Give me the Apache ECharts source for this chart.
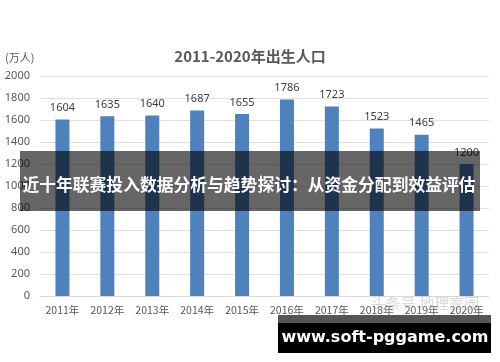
<!DOCTYPE html>
<html><head><meta charset="utf-8">
<script src="https://cdn.jsdelivr.net/npm/echarts@6/dist/echarts.min.js"></script>
<style>html,body{margin:0;padding:0;background:#fff}#c{width:500px;height:362px}</style>
</head><body><div id="c"></div>
<script>
const years = ['2011年','2012年','2013年','2014年','2015年','2016年','2017年','2018年','2019年','2020年'];
const births = [1604,1635,1640,1687,1655,1786,1723,1523,1465,1200];
const yTicks = [0,200,400,600,800,1000,1200,1400,1600,1800,2000];
const titleText = '2011-2020年出生人口';
const unitText = '(万人)';
const bannerText = '近十年联赛投入数据分析与趋势探讨：从资金分配到效益评估';
const siteText = 'www.soft-pggame.com';
const watermarkText = '头条号 地理家园';

const chart = echarts.init(document.getElementById('c'));
chart.setOption({
  animation:false,
  title:{text:titleText,left:'center',top:44,textStyle:{fontSize:15,fontWeight:'bold',color:'#595959',fontFamily:'Noto Sans CJK SC'}},
  grid:{left:40,right:11,top:76,bottom:66,containLabel:false},
  xAxis:{type:'category',data:years,
    axisLine:{lineStyle:{color:'#d9d9d9'}},axisTick:{show:false},
    axisLabel:{interval:0,color:'#595959',fontSize:10.5,margin:9,fontFamily:'Noto Sans CJK SC'}},
  yAxis:{type:'value',min:yTicks[0],max:yTicks[yTicks.length-1],interval:200,
    axisLine:{show:false},axisTick:{show:false},
    splitLine:{lineStyle:{color:'#e0e0e0'}},
    axisLabel:{color:'#595959',fontSize:11,margin:10,fontFamily:'Noto Sans',formatter:v=>String(v)}},
  series:[{type:'bar',data:births,barWidth:14,itemStyle:{color:'#4f81bd'},
    label:{show:true,position:'top',distance:6,color:'#404040',fontSize:11,fontFamily:'Noto Sans'}}],
  graphic:[
    {type:'text',left:5,top:52,style:{text:unitText,fill:'#595959',font:'11px "Noto Sans CJK SC"'}},
    {type:'rect',shape:{x:20,y:151,width:460,height:60},style:{fill:'rgba(0,0,0,0.6)'},z:100},
    {type:'text',x:249,y:185,style:{text:bannerText,fill:'#fff',font:'bold 16.8px "Noto Sans CJK SC"',align:'center',verticalAlign:'middle'},z:101},
    {type:'text',x:425,y:303,style:{text:watermarkText,fill:'rgba(170,170,170,0.45)',font:'15px "Noto Sans CJK SC"',align:'center',verticalAlign:'middle'},z:99},
    {type:'rect',shape:{x:278,y:315,width:213,height:8},style:{fill:'#555'},z:100},
    {type:'rect',shape:{x:278,y:323,width:213,height:30},style:{fill:'#000'},z:100},
    {type:'text',x:385,y:338,style:{text:siteText,fill:'#fff',font:'bold 16px "DejaVu Sans"',align:'center',verticalAlign:'middle'},z:101}
  ]
});
</script></body></html>
